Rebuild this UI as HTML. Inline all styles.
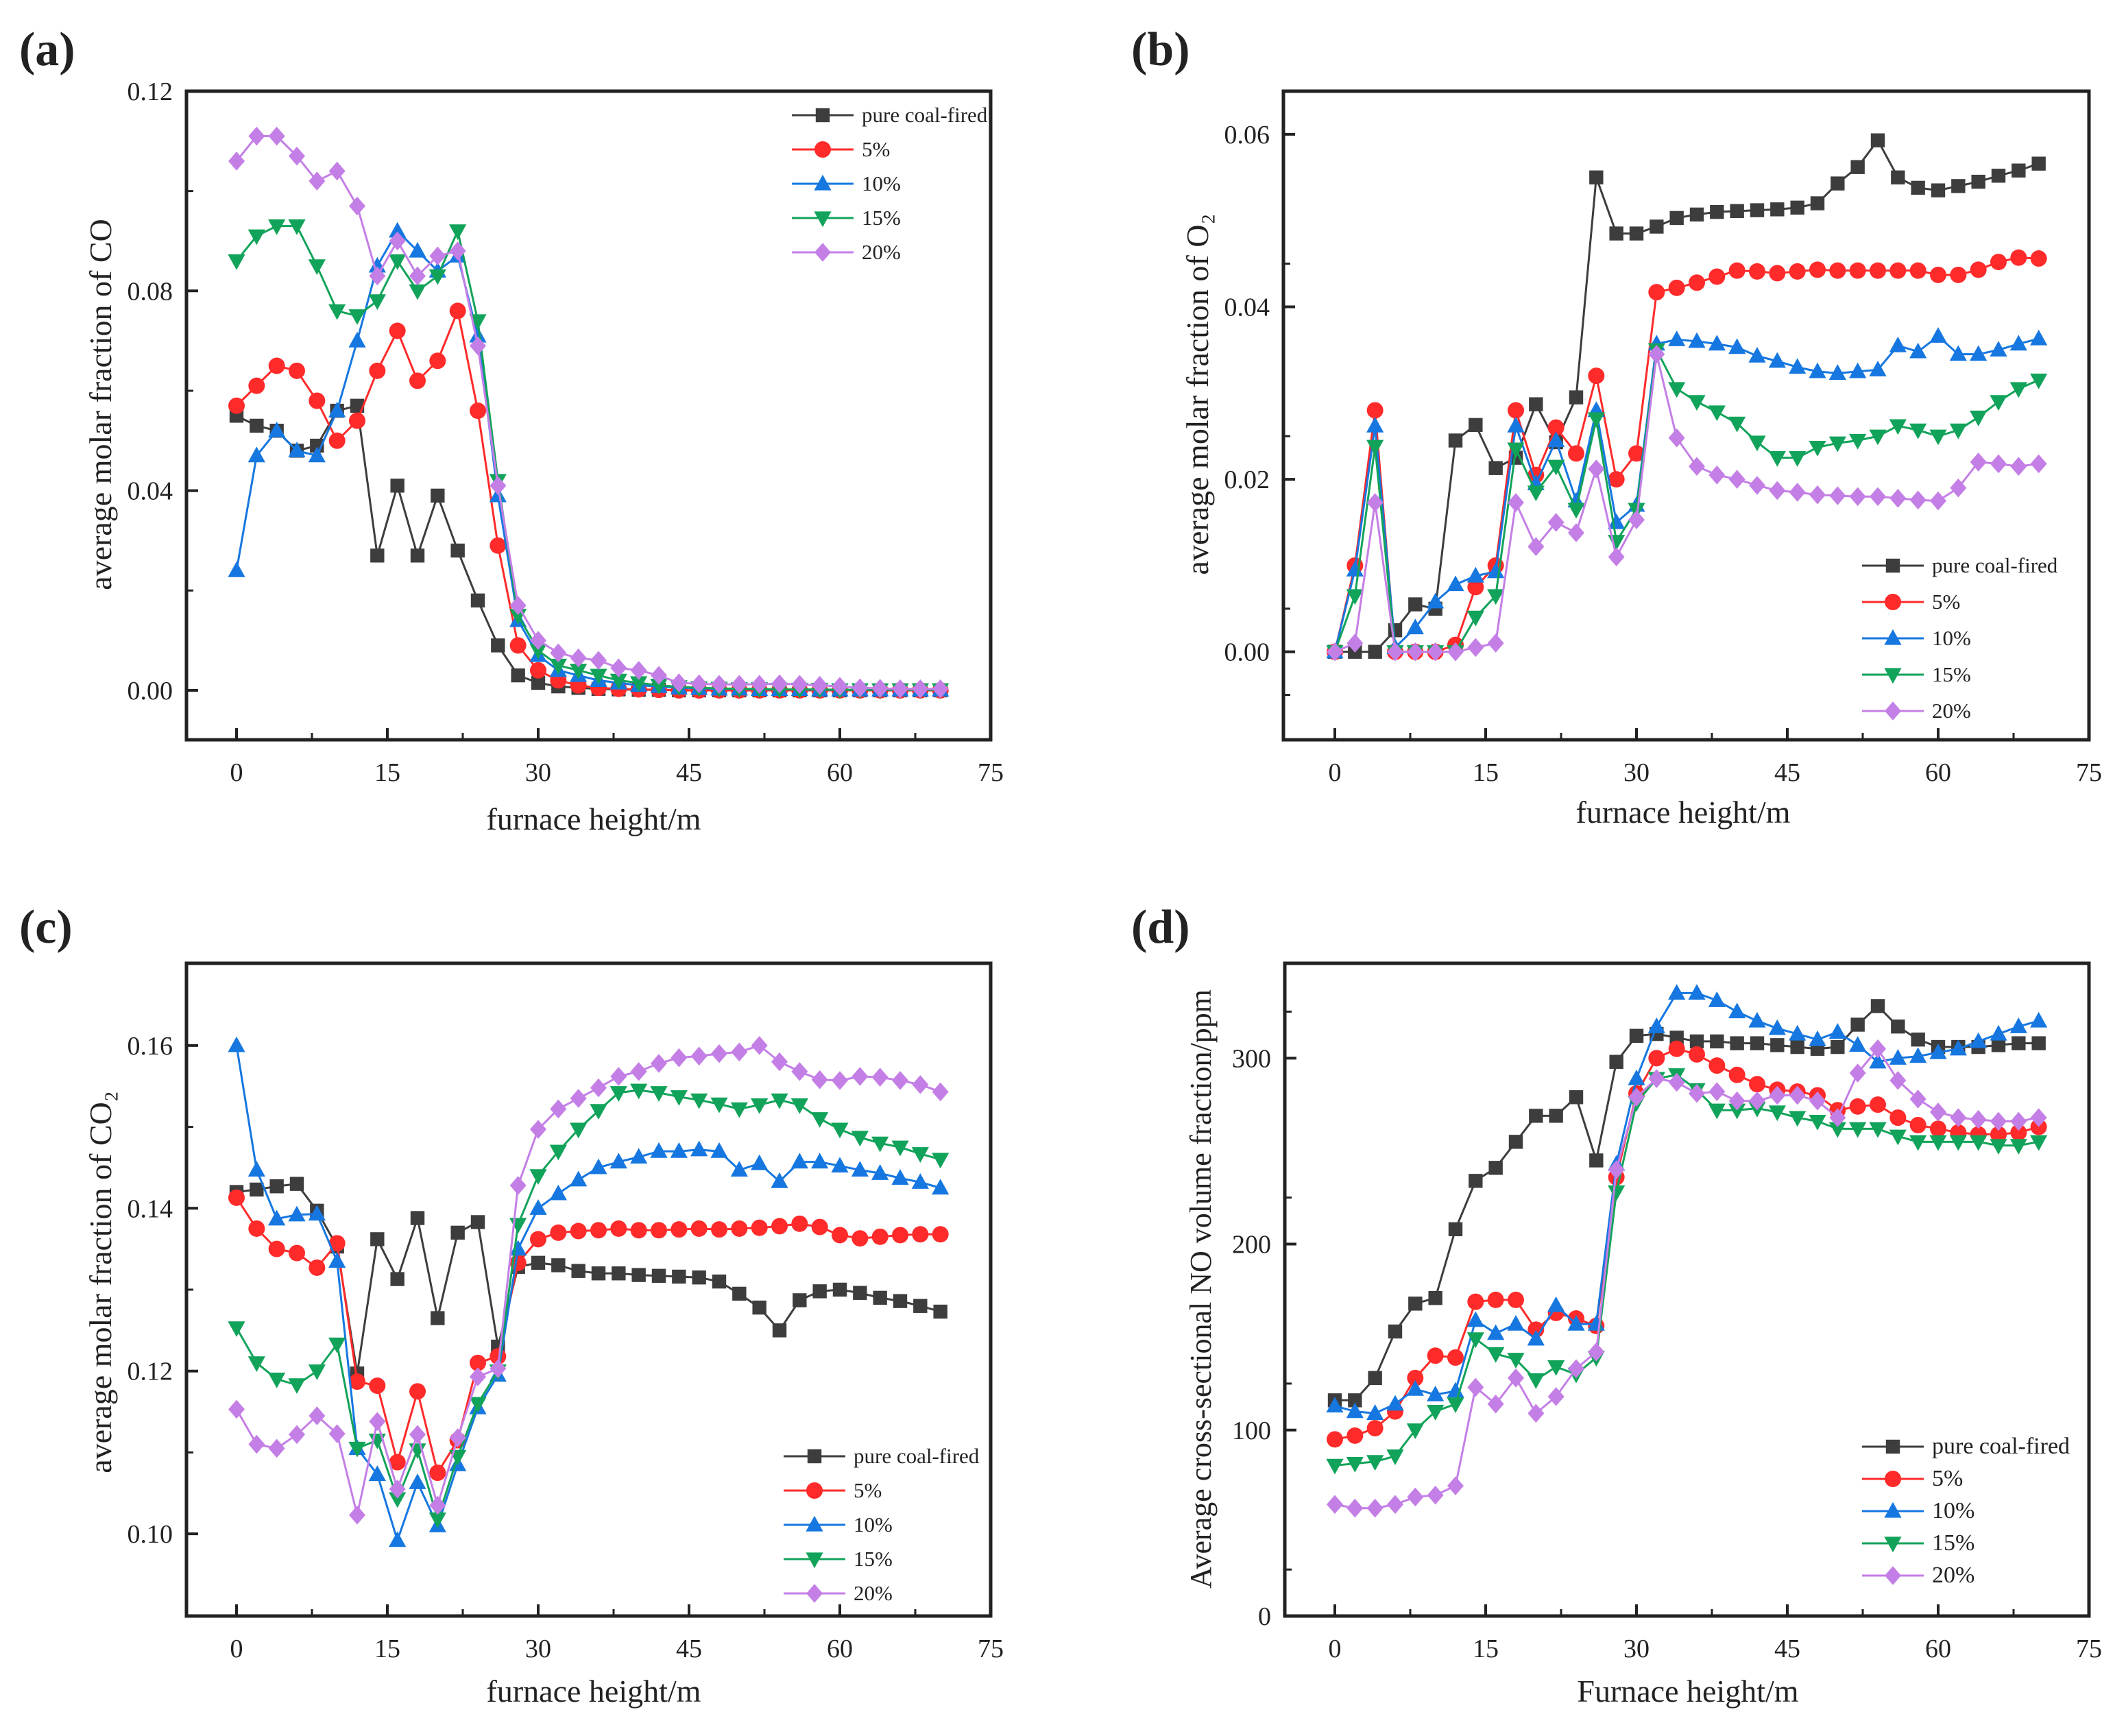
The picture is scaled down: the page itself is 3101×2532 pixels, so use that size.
<!DOCTYPE html>
<html><head><meta charset="utf-8"><style>
html,body{margin:0;padding:0;background:#fff}
svg{display:block}
text{font-family:"Liberation Serif",serif;fill:#222}
</style></head><body>
<svg id="fig" width="3101" height="2532" viewBox="0 0 3101 2532"></svg>
<script>
const xHeights=[0,2,4,6,8,10,12,14,16,18,20,22,24,26,28,30,32,34,36,38,40,42,44,46,48,50,52,54,56,58,60,62,64,66,68,70];
const seriesNames=["pure coal-fired","5%","10%","15%","20%"];
const xTicks=[0,15,30,45,60,75];
// (a) CO
const coPure=[.055,.053,.052,.048,.049,.056,.057,.027,.041,.027,.039,.028,.018,.009,.003,.0015,.0008,.0005,.0003,.0002,.0001,.0001,0,0,0,0,0,0,0,0,0,0,0,0,0,0];
const co5=[.057,.061,.065,.064,.058,.050,.054,.064,.072,.062,.066,.076,.056,.029,.009,.004,.002,.001,.0005,.0003,.0002,.0001,0,0,0,0,0,0,0,0,0,0,0,0,0,0];
const co10=[.024,.047,.052,.048,.047,.056,.070,.085,.092,.088,.084,.087,.071,.039,.014,.007,.004,.003,.002,.0015,.001,.0008,.0005,.0004,.0003,.0003,.0002,.0002,.0002,.0001,.0001,.0001,.0001,.0001,.0001,.0001];
const co15=[.086,.091,.093,.093,.085,.076,.075,.078,.086,.080,.083,.092,.074,.042,.015,.008,.005,.004,.003,.002,.0015,.001,.0007,.0005,.0004,.0003,.0003,.0002,.0002,.0002,.0001,.0001,.0001,.0001,.0001,.0001];
const co20=[.106,.111,.111,.107,.102,.104,.097,.083,.090,.083,.087,.088,.069,.041,.017,.010,.0075,.0065,.006,.0045,.004,.003,.0015,.0013,.0012,.0012,.0012,.0013,.0012,.001,.0008,.0005,.0004,.0003,.0003,.0003];
const coTicks=[0,0.04,0.08,0.12];
const coTickLabels=["0.00","0.04","0.08","0.12"];
// (b) O2
const o2Pure=[0,0,0,.0025,.0055,.005,.0245,.0263,.0213,.0225,.0287,.0243,.0295,.055,.0485,.0485,.0493,.0503,.0507,.051,.0511,.0512,.0513,.0515,.052,.0543,.0562,.0593,.055,.0538,.0535,.054,.0545,.0552,.0558,.0566];
const o25=[0,.01,.028,0,0,0,.0008,.0075,.01,.028,.0205,.026,.023,.032,.02,.023,.0417,.0422,.0428,.0435,.0442,.0441,.0439,.0441,.0443,.0442,.0442,.0442,.0442,.0442,.0437,.0437,.0443,.0452,.0457,.0456];
const o210=[0,.0095,.0262,.0005,.0028,.0058,.0078,.0088,.0093,.0262,.0195,.0245,.0175,.028,.015,.017,.0357,.0362,.036,.0357,.0353,.0343,.0337,.033,.0325,.0323,.0325,.0327,.0355,.0348,.0366,.0345,.0345,.035,.0357,.0363];
const o215=[0,.0065,.0238,0,0,0,0,.004,.0065,.0235,.0185,.0215,.0165,.027,.0128,.0165,.035,.0305,.029,.0278,.0265,.0243,.0225,.0225,.0237,.0242,.0245,.025,.0262,.0257,.025,.0257,.0272,.029,.0305,.0315];
const o220=[0,.001,.0173,0,0,0,0,.0005,.001,.0173,.0122,.015,.0138,.0212,.011,.0153,.0345,.0248,.0215,.0205,.02,.0193,.0187,.0185,.0182,.0181,.018,.018,.0178,.0176,.0175,.019,.022,.0218,.0215,.0218];
const o2Ticks=[0,0.02,0.04,0.06];
const o2TickLabels=["0.00","0.02","0.04","0.06"];
// (c) CO2
const co2Pure=[.142,.1423,.1427,.143,.1397,.1353,.1197,.1362,.1313,.1388,.1265,.137,.1383,.123,.1328,.1333,.133,.1323,.132,.132,.1318,.1317,.1316,.1315,.131,.1295,.1278,.125,.1287,.1298,.13,.1296,.129,.1286,.128,.1273];
const co25=[.1413,.1375,.135,.1345,.1327,.1357,.1187,.1182,.1088,.1175,.1075,.1115,.121,.1218,.1333,.1362,.137,.1372,.1373,.1375,.1373,.1373,.1374,.1375,.1374,.1375,.1376,.1378,.1381,.1377,.1367,.1363,.1365,.1367,.1368,.1368];
const co210=[.16,.1447,.1387,.1392,.1393,.1335,.1105,.1073,.0992,.1063,.101,.1085,.1155,.1195,.135,.14,.1418,.1435,.145,.1457,.1463,.147,.147,.1472,.147,.1447,.1455,.1433,.1457,.1457,.1452,.1447,.1443,.1437,.1432,.1425];
const co215=[.1253,.121,.119,.1183,.12,.1233,.1105,.1115,.1043,.1103,.1018,.1095,.116,.12,.138,.144,.147,.1497,.152,.1542,.1545,.1542,.1537,.1533,.1528,.1522,.1527,.1533,.1527,.151,.1497,.1487,.148,.1475,.1467,.146];
const co220=[.1153,.111,.1105,.1122,.1145,.1123,.1023,.1138,.1055,.1122,.1035,.1118,.1193,.1203,.1428,.1497,.1522,.1535,.1548,.1562,.1568,.1578,.1585,.1587,.159,.1592,.16,.158,.1568,.1558,.1557,.1562,.1561,.1557,.1552,.1543];
const co2Ticks=[0.10,0.12,0.14,0.16];
const co2TickLabels=["0.10","0.12","0.14","0.16"];
// (d) NO
const noPure=[116,116,128,153,168,171,208,234,241,255,269,269,279,245,298,312,313,311,309,309,308,308,307,306,305,306,318,328,317,310,306,306,306,307,308,308];
const no5=[95,97,101,110,128,140,139,169,170,170,154,163,160,156,236,281,300,305,302,296,291,286,283,282,280,272,274,275,268,264,262,260,259,259,260,263];
const no10=[113,110,109,114,122,119,121,159,152,157,149,167,157,157,243,289,317,335,335,331,325,320,316,313,310,314,307,298,300,301,303,305,309,313,317,320];
const no15=[81,82,83,86,100,110,114,149,141,138,127,134,130,139,228,276,289,291,283,272,272,273,271,268,266,262,262,262,258,255,255,255,255,253,253,255];
const no20=[60,58,58,60,64,65,70,123,114,128,109,118,133,142,240,279,289,287,281,282,277,277,280,280,277,268,292,305,288,278,271,268,267,266,266,268];
const noTicks=[0,100,200,300];
const noTickLabels=["0","100","200","300"];

const colors=["#3d3d3d","#ff2a2a","#1677e0","#12a35a","#c47fe6"];
const shapes=["square","circle","up","down","diamond"];
const NS="http://www.w3.org/2000/svg";
const fig=document.getElementById('fig');
function mk(tag,attrs,parent){const e=document.createElementNS(NS,tag);for(const k in attrs)e.setAttribute(k,attrs[k]);(parent||fig).appendChild(e);return e;}
function marker(g,shape,cx,cy,r,col){
  let e;
  if(shape==="square")e=mk('rect',{x:cx-r*0.85,y:cy-r*0.85,width:r*1.7,height:r*1.7,fill:col},g);
  else if(shape==="circle")e=mk('circle',{cx:cx,cy:cy,r:r,fill:col},g);
  else if(shape==="up")e=mk('polygon',{points:`${cx},${cy-r*1.1} ${cx+r*1.05},${cy+r*0.8} ${cx-r*1.05},${cy+r*0.8}`,fill:col},g);
  else if(shape==="down")e=mk('polygon',{points:`${cx},${cy+r*1.1} ${cx+r*1.05},${cy-r*0.8} ${cx-r*1.05},${cy-r*0.8}`,fill:col},g);
  else e=mk('polygon',{points:`${cx},${cy-r*1.15} ${cx+r*1.0},${cy} ${cx},${cy+r*1.15} ${cx-r*1.0},${cy}`,fill:col},g);
  return e;
}
function chart(o){
  const g=mk('g',{});
  
  
  const {L,R,T,B,x0,x75,ymin,ymax}=o;
  const X=v=>x0+(x75-x0)*v/75;
  const Y=v=>B-(B-T)*(v-ymin)/(ymax-ymin);
  const lt=mk('text',{x:o.lx,y:o.ly,'font-size':70,'font-weight':'bold'},g);lt.textContent=o.letter;
  
  
  o.data.forEach((arr,si)=>{
    const sg=mk('g',{},g);
    
    
    mk('polyline',{points:arr.map((v,i)=>X(xHeights[i])+','+Y(v)).join(' '),fill:'none',stroke:colors[si],'stroke-width':3},sg);
    arr.forEach((v,i)=>{const m=marker(sg,shapes[si],X(xHeights[i]),Y(v),12,colors[si]);
      
      });
  });
  const fr=mk('rect',{x:L,y:T,width:R-L,height:B-T,fill:'none',stroke:'#222','stroke-width':5},g);
  
  
  xTicks.forEach(t=>{const px=X(t);
    if(t<75)mk('line',{x1:px,y1:B,x2:px,y2:B-17,stroke:'#222','stroke-width':4},g);
    const tx=mk('text',{x:px,y:B+60,'font-size':38,'text-anchor':'middle'},g);tx.textContent=t;
    
    
    if(t<75){mk('line',{x1:X(t+7.5),y1:B,x2:X(t+7.5),y2:B-10,stroke:'#222','stroke-width':3},g);}
  });
  o.ticks.forEach((t,i)=>{const py=Y(t);
    mk('line',{x1:L,y1:py,x2:L+17,y2:py,stroke:'#222','stroke-width':4},g);
    const tx=mk('text',{x:L-20,y:py+13,'font-size':38,'text-anchor':'end'},g);tx.textContent=o.labels[i];
    
    
    const mid=t+o.step/2; if(Y(mid)>T+2)mk('line',{x1:L,y1:Y(mid),x2:L+10,y2:Y(mid),stroke:'#222','stroke-width':3},g);
    const below=t-o.step/2; if(i===0&&Y(below)<B-2)mk('line',{x1:L,y1:Y(below),x2:L+10,y2:Y(below),stroke:'#222','stroke-width':3},g);
  });
  const xt=mk('text',{x:o.xtx,y:o.xty,'font-size':46,'text-anchor':'middle'},g);xt.textContent=o.xtitle;
  
  
  const yt=mk('text',{x:0,y:0,'font-size':o.ytfs||46,'text-anchor':'middle',transform:`translate(${o.ytx},${o.yty}) rotate(-90)`},g);yt.textContent=o.ytitle;
  
  
  const lg=mk('g',{},g);
  
  
  seriesNames.forEach((n,i)=>{const y=o.legY+i*o.legDy;
    mk('line',{x1:o.legX,y1:y,x2:o.legX+90,y2:y,stroke:colors[i],'stroke-width':3},lg);
    marker(lg,shapes[i],o.legX+45,y,12,colors[i]);
    const t=mk('text',{x:o.legX+102,y:y+10,'font-size':o.legFs},lg);t.textContent=n;
    
    
  });
}
chart({name:'chart-co',letter:'(a)',lx:28,ly:95,L:272,R:1445,T:133,B:1079,x0:345,x75:1445,ymin:-0.0099,ymax:0.12,
  data:[coPure,co5,co10,co15,co20],ticks:coTicks,labels:coTickLabels,step:0.04,
  xtitle:'furnace height/m',xtx:866,xty:1210,ytitle:'average molar fraction of CO',ytx:162,yty:590,
  legX:1155,legY:168,legDy:50,legFs:31});
chart({name:'chart-o2',letter:'(b)',lx:1650,ly:95,L:1872,R:3047,T:133,B:1079,x0:1947,x75:3047,ymin:-0.0102,ymax:0.065,
  data:[o2Pure,o25,o210,o215,o220],ticks:o2Ticks,labels:o2TickLabels,step:0.01,
  xtitle:'furnace height/m',xtx:2455,xty:1200,ytitle:'average molar fraction of O₂',ytx:1762,yty:575,
  legX:2716,legY:825,legDy:53,legFs:31});
chart({name:'chart-co2',letter:'(c)',lx:28,ly:1375,L:272,R:1445,T:1405,B:2357,x0:345,x75:1445,ymin:0.0899,ymax:0.1701,
  data:[co2Pure,co25,co210,co215,co220],ticks:co2Ticks,labels:co2TickLabels,step:0.02,
  xtitle:'furnace height/m',xtx:866,xty:2482,ytitle:'average molar fraction of CO₂',ytx:162,yty:1870,
  legX:1143,legY:2124,legDy:50,legFs:31});
chart({name:'chart-no',letter:'(d)',lx:1650,ly:1375,L:1874,R:3047,T:1405,B:2357,x0:1947,x75:3047,ymin:0,ymax:351,
  data:[noPure,no5,no10,no15,no20],ticks:noTicks,labels:noTickLabels,step:50,
  xtitle:'Furnace height/m',xtx:2462,xty:2482,ytitle:'Average cross-sectional NO volume fraction/ppm',ytx:1766,yty:1880,ytfs:44,
  legX:2716,legY:2110,legDy:47,legFs:34});
</script>
</body></html>
